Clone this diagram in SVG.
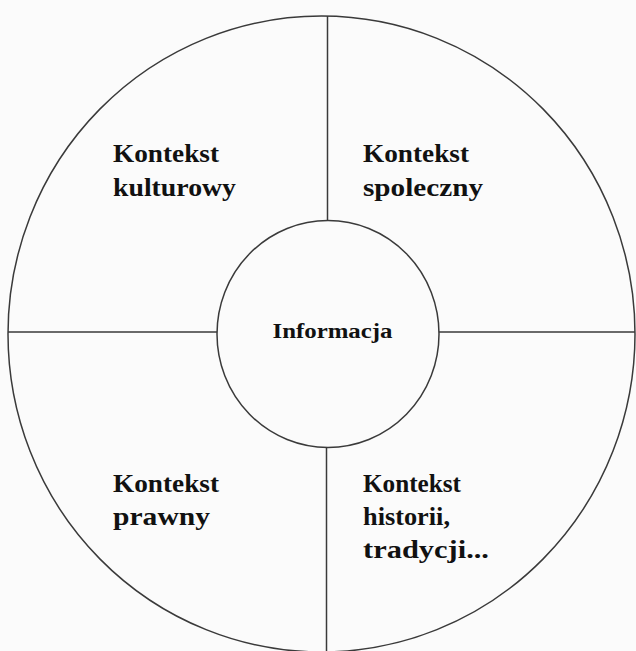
<svg xmlns="http://www.w3.org/2000/svg" width="636" height="651" viewBox="0 0 636 651">
<style>
.ln{stroke:#3a3a3a;stroke-width:1.5;fill:none}
.t{font-family:"Liberation Serif","Times New Roman",serif;font-weight:bold;font-size:25px;fill:#111}
.c{font-family:"Liberation Serif","Times New Roman",serif;font-weight:bold;font-size:20px;fill:#111}
</style>
<rect width="636" height="651" fill="#fbfbfb"/>
<g id="connectors">
<line class="ln" x1="327.5" y1="16" x2="327.5" y2="221"/>
<line class="ln" x1="8" y1="332" x2="217" y2="332"/>
<line class="ln" x1="439" y1="332" x2="635" y2="332"/>
<line class="ln" x1="326.5" y1="447" x2="326.5" y2="651"/>
</g>
<g id="outer">
<ellipse class="ln" cx="321.5" cy="334" rx="313.5" ry="318"/>
</g>
<g id="informacja">
<ellipse class="ln" cx="328" cy="334" rx="111" ry="113.5"/>
<text class="c" x="272.5" y="338" textLength="120" lengthAdjust="spacingAndGlyphs">Informacja</text>
</g>
<g id="kulturowy">
<text class="t" x="113" y="162" textLength="106" lengthAdjust="spacingAndGlyphs">Kontekst</text>
<text class="t" x="113" y="196" textLength="123" lengthAdjust="spacingAndGlyphs">kulturowy</text>
</g>
<g id="spoleczny">
<text class="t" x="363" y="162" textLength="106" lengthAdjust="spacingAndGlyphs">Kontekst</text>
<text class="t" x="363" y="196" textLength="120" lengthAdjust="spacingAndGlyphs">spoleczny</text>
</g>
<g id="prawny">
<text class="t" x="113" y="492" textLength="106" lengthAdjust="spacingAndGlyphs">Kontekst</text>
<text class="t" x="113" y="525" textLength="97" lengthAdjust="spacingAndGlyphs">prawny</text>
</g>
<g id="historii">
<text class="t" x="363" y="492" textLength="98" lengthAdjust="spacingAndGlyphs">Kontekst</text>
<text class="t" x="363" y="525" textLength="87" lengthAdjust="spacingAndGlyphs">historii,</text>
<text class="t" x="363" y="558" textLength="126" lengthAdjust="spacingAndGlyphs">tradycji...</text>
</g>
</svg>
